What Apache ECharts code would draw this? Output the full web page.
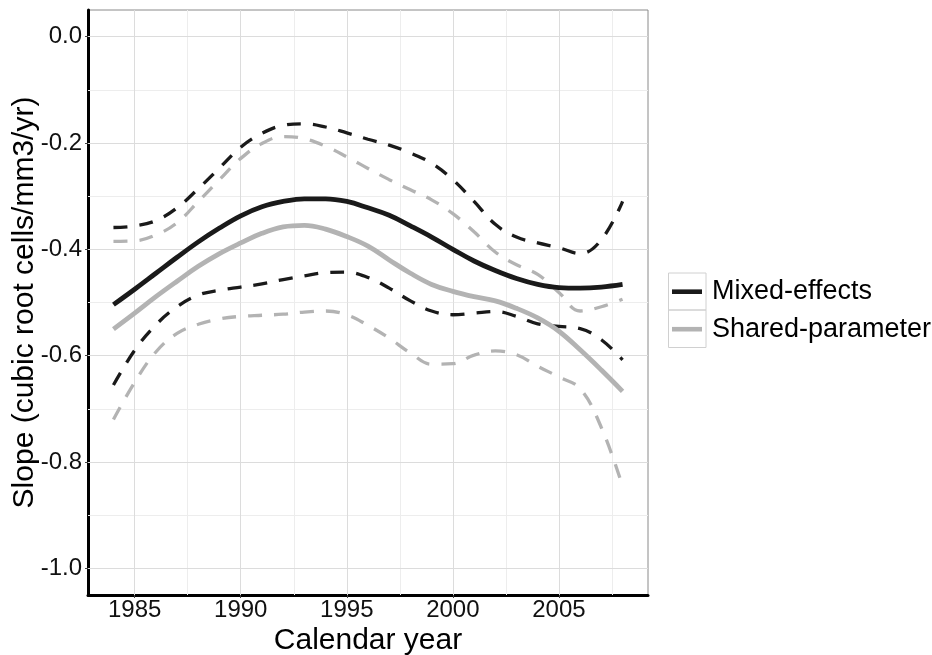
<!DOCTYPE html>
<html><head><meta charset="utf-8">
<script src="https://cdn.jsdelivr.net/npm/echarts@6/dist/echarts.min.js"></script>
<style>html,body{margin:0;padding:0;background:#fff}#c{width:932px;height:655px}</style>
</head><body><div id="c"></div>
<script>
const years = [1984,1985,1986,1987,1988,1989,1990,1991,1992,1993,1994,1995,1996,1997,1998,1999,2000,2001,2002,2003,2004,2005,2006,2007,2008];
const mixedEffects = [-0.504,-0.475,-0.445,-0.415,-0.386,-0.360,-0.337,-0.320,-0.310,-0.305,-0.305,-0.310,-0.322,-0.336,-0.356,-0.377,-0.400,-0.422,-0.440,-0.455,-0.466,-0.472,-0.473,-0.471,-0.466];
const mixedUpper = [-0.359,-0.356,-0.346,-0.322,-0.286,-0.247,-0.208,-0.182,-0.167,-0.164,-0.170,-0.181,-0.193,-0.204,-0.219,-0.238,-0.269,-0.310,-0.353,-0.377,-0.388,-0.397,-0.408,-0.382,-0.310];
const mixedLower = [-0.655,-0.590,-0.542,-0.508,-0.486,-0.477,-0.471,-0.465,-0.457,-0.450,-0.444,-0.443,-0.453,-0.473,-0.497,-0.516,-0.523,-0.520,-0.517,-0.526,-0.540,-0.545,-0.549,-0.570,-0.608];
const sharedParam = [-0.550,-0.520,-0.489,-0.460,-0.432,-0.408,-0.388,-0.370,-0.358,-0.355,-0.362,-0.376,-0.394,-0.420,-0.445,-0.466,-0.479,-0.489,-0.497,-0.511,-0.529,-0.554,-0.589,-0.627,-0.667];
const sharedUpper = [-0.385,-0.384,-0.373,-0.350,-0.310,-0.269,-0.229,-0.201,-0.188,-0.192,-0.206,-0.226,-0.248,-0.269,-0.288,-0.307,-0.333,-0.367,-0.405,-0.429,-0.447,-0.481,-0.516,-0.508,-0.494];
const sharedLower = [-0.720,-0.650,-0.593,-0.558,-0.541,-0.531,-0.526,-0.524,-0.522,-0.518,-0.516,-0.523,-0.543,-0.567,-0.595,-0.616,-0.615,-0.599,-0.591,-0.598,-0.620,-0.640,-0.662,-0.735,-0.845];
const xTicks = [1985,1990,1995,2000,2005];
const xMinorTicks = [1987.5,1992.5,1997.5,2002.5,2007.5];
const yTicks = [-1.0,-0.8,-0.6,-0.4,-0.2,0.0];
const yMinorTicks = [-0.9,-0.7,-0.5,-0.3,-0.1];

const FONT = "'Liberation Sans', Arial, Helvetica, sans-serif";
const BLACK = '#1a1a1a', GREY = '#b3b3b3';
const MAJOR = '#dcdcdc', MINOR = '#ededed';

function mk(name, vals, color, width, dashed, z) {
  return {
    name: name, type: 'line', data: years.map((y, i) => [y, vals[i]]),
    showSymbol: false, symbol: 'none', smooth: 0.4, silent: true, animation: false, z: z,
    lineStyle: { color: color, width: width, type: dashed ? [14, 12] : 'solid', cap: 'butt' },
    itemStyle: { color: color }
  };
}

const gridLines = [].concat(
  xMinorTicks.map(v => ({ xAxis: v, lineStyle: { color: MINOR } })),
  yMinorTicks.map(v => ({ yAxis: v, lineStyle: { color: MINOR } })),
  xTicks.map(v => ({ xAxis: v, lineStyle: { color: MAJOR } })),
  yTicks.map(v => ({ yAxis: v, lineStyle: { color: MAJOR } }))
);

const chart = echarts.init(document.getElementById('c'));
chart.setOption({
  backgroundColor: '#fff',
  animation: false,
  textStyle: { fontFamily: FONT },
  grid: { show: true, left: 88, right: 284, top: 10, bottom: 60, outerBoundsMode: 'none', containLabel: false,
    borderColor: '#8a8a8a', borderWidth: 1, backgroundColor: '#fff' },
  xAxis: {
    type: 'value', min: 1982.8, max: 2009.2,
    splitLine: { show: false },
    axisLine: { show: true, onZero: false, lineStyle: { color: '#000', width: 3 } },
    axisTick: { show: true, length: 3, customValues: xTicks, lineStyle: { color: '#444', width: 1 } },
    axisLabel: { customValues: xTicks, margin: 3, fontSize: 24, color: '#111', fontFamily: FONT,
      formatter: v => String(Math.round(v)) },
    name: 'Calendar year', nameLocation: 'middle', nameGap: 31, nameMoveOverlap: false,
    nameTextStyle: { fontSize: 30, color: '#000', fontFamily: FONT }
  },
  yAxis: {
    type: 'value', min: -1.05, max: 0.05,
    splitLine: { show: false },
    axisLine: { show: true, onZero: false, lineStyle: { color: '#000', width: 3 } },
    axisTick: { show: true, length: 3, customValues: yTicks, lineStyle: { color: '#444', width: 1 } },
    axisLabel: { customValues: yTicks, margin: 6, fontSize: 24, color: '#111', fontFamily: FONT,
      formatter: v => Number(v).toFixed(1) },
    name: 'Slope (cubic root cells/mm3/yr)', nameLocation: 'middle', nameGap: 48, nameMoveOverlap: false,
    nameTextStyle: { fontSize: 30, color: '#000', fontFamily: FONT }
  },
  legend: {
    data: ['Mixed-effects', 'Shared-parameter'], orient: 'vertical', left: 672, top: 276.7, padding: 0,
    icon: 'rect', itemWidth: 30, itemHeight: 4.6, itemGap: 7.5, selectedMode: false,
    textStyle: { fontSize: 27, color: '#000', fontFamily: FONT, padding: [0, 0, 0, 5], lineHeight: 30 }
  },
  graphic: [
    { type: 'rect', shape: { x: 668.5, y: 273, width: 37.5, height: 37 }, style: { fill: 'none', stroke: '#d0d0d0', lineWidth: 1 }, silent: true },
    { type: 'rect', shape: { x: 668.5, y: 310, width: 37.5, height: 37.5 }, style: { fill: 'none', stroke: '#d0d0d0', lineWidth: 1 }, silent: true }
  ],
  series: [
    {
      name: 'grid', type: 'line', data: [[years[0], mixedEffects[0]]], showSymbol: false, symbol: 'none',
      lineStyle: { opacity: 0 }, silent: true, z: 1,
      markLine: { silent: true, z: 1, symbol: ['none', 'none'], label: { show: false }, animation: false,
        lineStyle: { type: 'solid', width: 1 }, data: gridLines }
    },
    mk('Mixed-effects upper', mixedUpper, BLACK, 3.3, true, 5),
    mk('Mixed-effects lower', mixedLower, BLACK, 3.3, true, 5),
    mk('Shared-parameter upper', sharedUpper, GREY, 3.3, true, 5),
    mk('Shared-parameter lower', sharedLower, GREY, 3.3, true, 5),
    mk('Shared-parameter', sharedParam, GREY, 4.8, false, 6),
    mk('Mixed-effects', mixedEffects, BLACK, 4.8, false, 6)
  ]
});
</script></body></html>
